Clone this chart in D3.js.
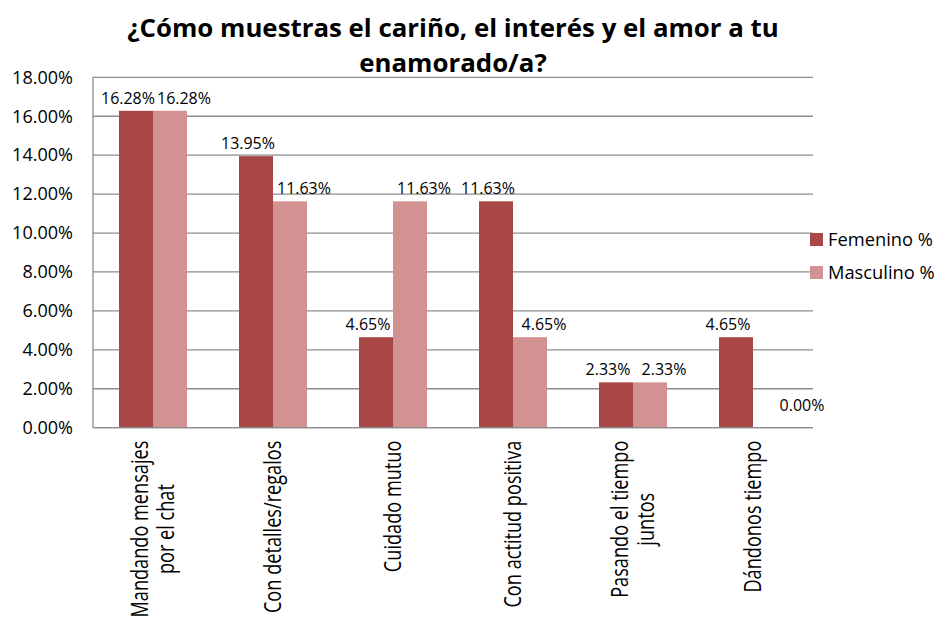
<!DOCTYPE html>
<html>
<head>
<meta charset="utf-8">
<script src="https://cdn.jsdelivr.net/npm/d3@7"></script>
<style>
  html, body { margin: 0; padding: 0; background: #fff; }
  svg { display: block; }
  text { font-family: "Open Sans", "Noto Sans", sans-serif; fill: #000; }
</style>
</head>
<body>
<svg id="chart" width="938" height="620"></svg>
<script>
const titleLines = ["¿Cómo muestras el cariño, el interés y el amor a tu", "enamorado/a?"];
const categories = [
  ["Mandando mensajes", "por el chat"],
  ["Con detalles/regalos"],
  ["Cuidado mutuo"],
  ["Con actitud positiva"],
  ["Pasando el tiempo", "juntos"],
  ["Dándonos tiempo"]
];
const seriesNames = ["Femenino %", "Masculino %"];
const femenino = [16.28, 13.95, 4.65, 11.63, 2.33, 4.65];
const masculino = [16.28, 11.63, 11.63, 4.65, 2.33, 0.00];
const yTicks = [0, 2, 4, 6, 8, 10, 12, 14, 16, 18];
const colors = ["#A94646", "#D39292"];

const svg = d3.select("#chart");
const M = { left: 93, right: 813, top: 77.3, bottom: 427.7 };

function fitSize(str, target, weight, base) {
  const t = svg.append("text").attr("font-size", base).attr("font-weight", weight || "normal").text(str);
  const w = t.node().getComputedTextLength();
  t.remove();
  return base * target / w;
}

const catKeys = categories.map(c => c.join(" "));
const x0 = d3.scaleBand().domain(catKeys).range([M.left, M.right]).padding(0);
const x1 = d3.scaleBand().domain(seriesNames).range([0, x0.bandwidth()]).paddingInner(0).paddingOuter(0.765);
const y = d3.scaleLinear().domain([0, 18]).range([M.bottom, M.top]);

// Gridlines
svg.append("g").selectAll("line").data(yTicks).join("line")
  .attr("x1", M.left).attr("x2", M.right)
  .attr("y1", d => y(d)).attr("y2", d => y(d))
  .attr("stroke", "#8c8c8c").attr("stroke-width", 1.3);

// Y axis line
svg.append("line").attr("x1", M.left).attr("x2", M.left).attr("y1", M.top).attr("y2", M.bottom)
  .attr("stroke", "#8c8c8c").attr("stroke-width", 1.3);

// Y tick labels
const tickSize = fitSize("18.00%", 61, "normal", 16);
const yAxis = d3.axisLeft(y).tickValues(yTicks).tickFormat(d => d.toFixed(2) + "%").tickSize(0).tickPadding(20);
const gy = svg.append("g").attr("transform", `translate(${M.left},0)`).call(yAxis);
gy.select(".domain").remove();
gy.selectAll("text").attr("font-size", tickSize).attr("font-family", '"Open Sans", sans-serif').attr("fill", "#000");

// Bars
const data = catKeys.map((k, i) => ({ key: k, vals: [femenino[i], masculino[i]] }));
const groups = svg.append("g").selectAll("g").data(data).join("g")
  .attr("transform", d => `translate(${x0(d.key)},0)`);
groups.selectAll("rect").data(d => d.vals.map((v, j) => ({ v, s: seriesNames[j], j }))).join("rect")
  .attr("x", d => x1(d.s)).attr("width", x1.bandwidth())
  .attr("y", d => y(d.v)).attr("height", d => y(0) - y(d.v))
  .attr("fill", d => colors[d.j]);

// Data labels
const labSize = fitSize("16.28%", 54, "normal", 16);
groups.selectAll("text.val").data(d => d.vals.map((v, j) => ({ v, s: seriesNames[j], j }))).join("text")
  .attr("class", "val")
  .attr("x", d => x1(d.s) + x1.bandwidth() / 2 + (d.j === 0 ? -8 : (d.v === 0 ? 32 : 14)))
  .attr("y", d => y(d.v) - (d.v === 0 ? 17 : 7))
  .attr("text-anchor", "middle").attr("font-size", labSize)
  .text(d => d.v.toFixed(2) + "%");

// Bottom axis line
svg.append("line").attr("x1", M.left).attr("x2", M.right).attr("y1", M.bottom).attr("y2", M.bottom)
  .attr("stroke", "#8c8c8c").attr("stroke-width", 1.3);

// Category labels (rotated, horizontally stretched like the reference)
const catSize = fitSize("Con actitud positiva", 167, "normal", 16);
const stretch = 1.28;
const lineGap = 26;
categories.forEach((lines, i) => {
  const cx = x0(catKeys[i]) + x0.bandwidth() / 2;
  const widths = lines.map(l => {
    const t = svg.append("text").attr("font-size", catSize).text(l);
    const w = t.node().getComputedTextLength(); t.remove(); return w;
  });
  const maxW = d3.max(widths);
  const centerY = M.bottom + 13 + maxW / 2;
  const n = lines.length;
  lines.forEach((l, k) => {
    const off = (k - (n - 1) / 2) * lineGap;
    const xx = cx + off + catSize * 0.36 * stretch;
    svg.append("text")
      .attr("transform", `translate(${xx},${centerY}) scale(${stretch},1) rotate(-90)`)
      .attr("text-anchor", "middle").attr("font-size", catSize)
      .text(l);
  });
});

// Legend
const legSize = fitSize("Femenino %", 105, "normal", 16);
const leg = svg.append("g");
seriesNames.forEach((s, j) => {
  const ly = 240 + j * 33;
  leg.append("rect").attr("x", 810).attr("y", ly - 7).attr("width", 13).attr("height", 13).attr("fill", colors[j]);
  leg.append("text").attr("x", 828).attr("y", ly).attr("dy", "0.35em").attr("font-size", legSize).text(s);
});

// Title
const titleSize = fitSize(titleLines[0], 652, "bold", 22);
titleLines.forEach((t, k) => {
  svg.append("text").attr("x", 453).attr("y", 28 + k * 35).attr("dy", "0.35em")
    .attr("text-anchor", "middle").attr("font-weight", "bold").attr("font-size", titleSize).text(t);
});
</script>
</body>
</html>
